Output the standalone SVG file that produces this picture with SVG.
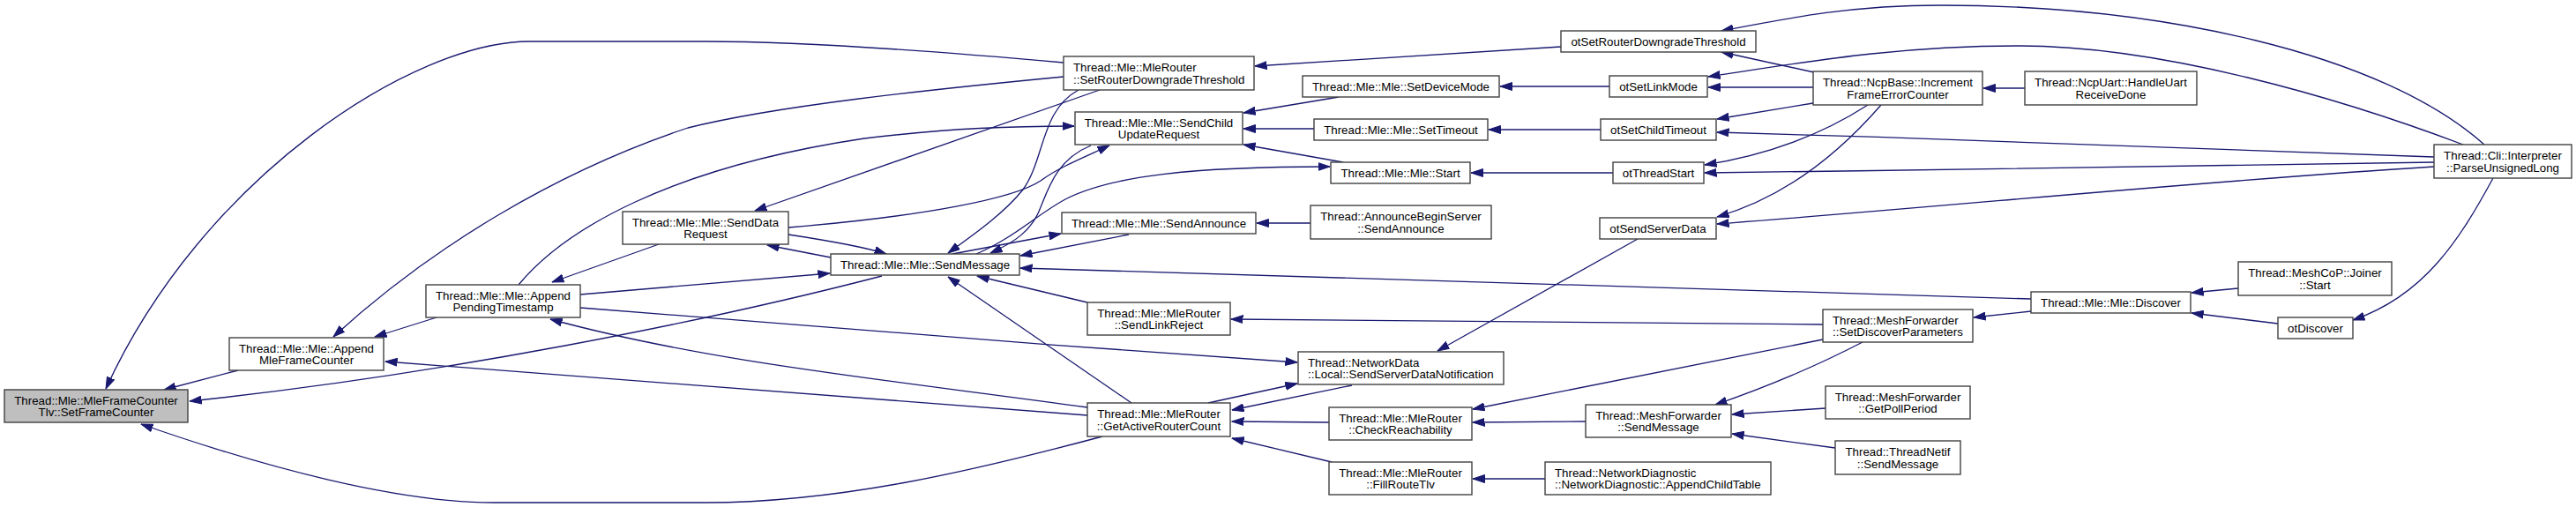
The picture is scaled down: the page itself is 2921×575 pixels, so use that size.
<svg xmlns="http://www.w3.org/2000/svg" width="2921" height="575" viewBox="0 0 2921 575">
<style>
.n rect{fill:#fff;stroke:#404040;stroke-width:1.4}
.n rect.root{fill:#bfbfbf}
.n text{font-family:"Liberation Sans",Arial,Helvetica,sans-serif;font-size:13.3px;fill:#000;text-anchor:middle}
.n text.l{text-anchor:start}
#edges path{fill:none;stroke:#191970;stroke-width:1.3;marker-end:url(#ah)}
</style>
<defs>
<marker id="ah" markerUnits="userSpaceOnUse" markerWidth="14" markerHeight="10" viewBox="0 0 14 10" refX="13.5" refY="5" orient="auto">
<path d="M0,0.5 L13.5,5 L0,9.5 z" fill="#191970" stroke="#191970" stroke-width="1"/>
</marker>
</defs>
<rect width="2921" height="575" fill="#fff"/>
<g id="edges">
<path d="M270,420 L186,442"/>
<path d="M1206,71 C1050,57 900,47 800,47 L600,47 C470,47 230,200 120,441"/>
<path d="M1000,313 C800,365 500,425 215,455"/>
<path d="M1250,495 C1100,535 950,570 800,570 L560,570 C450,570 300,530 160,481"/>
<path d="M495,360 L425,382"/>
<path d="M1233,471 C900,446 600,420 437,410"/>
<path d="M1206,87 C1050,102 880,120 780,145 C630,195 490,280 378,382"/>
<path d="M747,277 L626,320"/>
<path d="M588,323 C640,260 760,190 980,157 C1080,145 1150,143 1218,143"/>
<path d="M658,334 L941,310"/>
<path d="M658,349 C900,370 1200,392 1471,411"/>
<path d="M1233,462 C1000,430 800,410 624,362"/>
<path d="M1247,102 L856,239"/>
<path d="M894,258 C1050,245 1150,225 1180,205 C1200,190 1230,178 1258,165"/>
<path d="M894,266 C940,273 980,280 1005,288"/>
<path d="M942,292 L870,278"/>
<path d="M1223,102 C1180,125 1185,180 1160,215 C1140,240 1110,262 1075,287"/>
<path d="M1237,165 C1200,180 1190,210 1180,235 C1170,262 1150,275 1123,287"/>
<path d="M1080,288 L1203,265"/>
<path d="M1280,266 L1157,290"/>
<path d="M1107,288 C1150,270 1180,240 1210,225 C1260,200 1350,189 1508,189"/>
<path d="M1770,53 L1423,75"/>
<path d="M1518,110 L1410,128"/>
<path d="M1490,146 L1410,146"/>
<path d="M1523,184 L1410,164"/>
<path d="M1486,253 L1425,253"/>
<path d="M2303,339 C1900,326 1500,314 1157,304"/>
<path d="M1283,457 L1075,314"/>
<path d="M1233,343 L1108,313"/>
<path d="M2067,368 L1396,362"/>
<path d="M1370,457 L1471,435"/>
<path d="M1533,437 L1397,465"/>
<path d="M1507,479 L1397,478"/>
<path d="M1510,524 L1397,497"/>
<path d="M1857,271 L1630,398"/>
<path d="M2067,385 L1670,464"/>
<path d="M1798,478 L1670,479"/>
<path d="M1752,543 L1670,543"/>
<path d="M2112,388 C2060,415 2000,440 1945,459"/>
<path d="M2303,353 L2238,360"/>
<path d="M2070,463 L1964,470"/>
<path d="M2081,508 L1964,492"/>
<path d="M2538,327 L2485,332"/>
<path d="M2583,367 L2485,355"/>
<path d="M2827,202 C2790,270 2750,335 2668,363"/>
<path d="M2817,164 C2700,60 2450,6 2200,6 C2100,6 2030,20 1952,35"/>
<path d="M2057,82 L1952,59"/>
<path d="M2793,164 C2650,110 2450,52 2290,52 C2150,52 2050,70 1937,87"/>
<path d="M2056,99 L1937,99"/>
<path d="M2056,117 L1947,135"/>
<path d="M2760,178 C2400,165 2200,157 1947,150"/>
<path d="M2118,119 C2070,150 2010,175 1933,187"/>
<path d="M2760,184 C2450,188 2200,193 1933,196"/>
<path d="M2133,119 C2080,180 2020,225 1947,246"/>
<path d="M2760,189 C2500,205 2200,235 1947,254"/>
<path d="M2296,100 L2249,100"/>
<path d="M1825,98 L1701,98"/>
<path d="M1815,147 L1688,147"/>
<path d="M1829,196 L1668,196"/>
</g>
<g id="n1" class="n"><rect class="root" x="5" y="442" width="208" height="37"/><text x="109" y="458.7">Thread::Mle::MleFrameCounter</text><text x="109" y="472.1">Tlv::SetFrameCounter</text></g>
<g id="n2" class="n"><rect x="260" y="383" width="175" height="37"/><text x="347.5" y="399.7">Thread::Mle::Mle::Append</text><text x="347.5" y="413.1">MleFrameCounter</text></g>
<g id="n3" class="n"><rect x="1206" y="64" width="216" height="38"/><text class="l" x="1217" y="81.2">Thread::Mle::MleRouter</text><text class="l" x="1217" y="94.6">::SetRouterDowngradeThreshold</text></g>
<g id="n4" class="n"><rect x="483" y="323" width="175" height="37"/><text x="570.5" y="339.7">Thread::Mle::Mle::Append</text><text x="570.5" y="353.1">PendingTimestamp</text></g>
<g id="n5" class="n"><rect x="706" y="240" width="188" height="37"/><text x="800" y="256.7">Thread::Mle::Mle::SendData</text><text x="800" y="270.1">Request</text></g>
<g id="n6" class="n"><rect x="942" y="288" width="214" height="24"/><text x="1049" y="304.8">Thread::Mle::Mle::SendMessage</text></g>
<g id="n7" class="n"><rect x="1219" y="127" width="190" height="37"/><text x="1314" y="143.7">Thread::Mle::Mle::SendChild</text><text x="1314" y="157.1">UpdateRequest</text></g>
<g id="n8" class="n"><rect x="1204" y="241" width="220" height="24"/><text x="1314" y="257.8">Thread::Mle::Mle::SendAnnounce</text></g>
<g id="n9" class="n"><rect x="1233" y="343" width="162" height="37"/><text x="1314" y="359.7">Thread::Mle::MleRouter</text><text x="1314" y="373.1">::SendLinkReject</text></g>
<g id="n10" class="n"><rect x="1233" y="457" width="162" height="38"/><text x="1314" y="474.2">Thread::Mle::MleRouter</text><text x="1314" y="487.6">::GetActiveRouterCount</text></g>
<g id="n11" class="n"><rect x="1770" y="35" width="221" height="24"/><text x="1880.5" y="51.8">otSetRouterDowngradeThreshold</text></g>
<g id="n12" class="n"><rect x="1477" y="86" width="223" height="24"/><text x="1588.5" y="102.8">Thread::Mle::Mle::SetDeviceMode</text></g>
<g id="n13" class="n"><rect x="1825" y="86" width="111" height="24"/><text x="1880.5" y="102.8">otSetLinkMode</text></g>
<g id="n14" class="n"><rect x="1490" y="135" width="197" height="24"/><text x="1588.5" y="151.8">Thread::Mle::Mle::SetTimeout</text></g>
<g id="n15" class="n"><rect x="1815" y="135" width="131" height="24"/><text x="1880.5" y="151.8">otSetChildTimeout</text></g>
<g id="n16" class="n"><rect x="1509" y="184" width="158" height="24"/><text x="1588" y="200.8">Thread::Mle::Mle::Start</text></g>
<g id="n17" class="n"><rect x="1829" y="184" width="103" height="24"/><text x="1880.5" y="200.8">otThreadStart</text></g>
<g id="n18" class="n"><rect x="1486" y="233" width="205" height="38"/><text x="1588.5" y="250.2">Thread::AnnounceBeginServer</text><text x="1588.5" y="263.6">::SendAnnounce</text></g>
<g id="n19" class="n"><rect x="1814" y="247" width="132" height="24"/><text x="1880" y="263.8">otSendServerData</text></g>
<g id="n20" class="n"><rect x="1472" y="399" width="233" height="37"/><text class="l" x="1483" y="415.7">Thread::NetworkData</text><text class="l" x="1483" y="429.1">::Local::SendServerDataNotification</text></g>
<g id="n21" class="n"><rect x="1507" y="462" width="162" height="37"/><text x="1588" y="478.7">Thread::Mle::MleRouter</text><text x="1588" y="492.1">::CheckReachability</text></g>
<g id="n22" class="n"><rect x="1507" y="524" width="162" height="37"/><text x="1588" y="540.7">Thread::Mle::MleRouter</text><text x="1588" y="554.1">::FillRouteTlv</text></g>
<g id="n23" class="n"><rect x="1798" y="459" width="165" height="37"/><text x="1880.5" y="475.7">Thread::MeshForwarder</text><text x="1880.5" y="489.1">::SendMessage</text></g>
<g id="n24" class="n"><rect x="1752" y="524" width="256" height="37"/><text class="l" x="1763" y="540.7">Thread::NetworkDiagnostic</text><text class="l" x="1763" y="554.1">::NetworkDiagnostic::AppendChildTable</text></g>
<g id="n25" class="n"><rect x="2056" y="81" width="192" height="38"/><text x="2152" y="98.2">Thread::NcpBase::Increment</text><text x="2152" y="111.6">FrameErrorCounter</text></g>
<g id="n26" class="n"><rect x="2296" y="81" width="195" height="38"/><text x="2393.5" y="98.2">Thread::NcpUart::HandleUart</text><text x="2393.5" y="111.6">ReceiveDone</text></g>
<g id="n27" class="n"><rect x="2067" y="351" width="170" height="37"/><text class="l" x="2078" y="367.7">Thread::MeshForwarder</text><text class="l" x="2078" y="381.1">::SetDiscoverParameters</text></g>
<g id="n28" class="n"><rect x="2303" y="331" width="181" height="24"/><text x="2393.5" y="347.8">Thread::Mle::Mle::Discover</text></g>
<g id="n29" class="n"><rect x="2070" y="438" width="164" height="37"/><text x="2152" y="454.7">Thread::MeshForwarder</text><text x="2152" y="468.1">::GetPollPeriod</text></g>
<g id="n30" class="n"><rect x="2081" y="500" width="142" height="38"/><text x="2152" y="517.2">Thread::ThreadNetif</text><text x="2152" y="530.6">::SendMessage</text></g>
<g id="n31" class="n"><rect x="2760" y="164" width="156" height="38"/><text x="2838" y="181.2">Thread::Cli::Interpreter</text><text x="2838" y="194.6">::ParseUnsignedLong</text></g>
<g id="n32" class="n"><rect x="2538" y="297" width="174" height="38"/><text x="2625" y="314.2">Thread::MeshCoP::Joiner</text><text x="2625" y="327.6">::Start</text></g>
<g id="n33" class="n"><rect x="2583" y="360" width="85" height="24"/><text x="2625.5" y="376.8">otDiscover</text></g>
</svg>
